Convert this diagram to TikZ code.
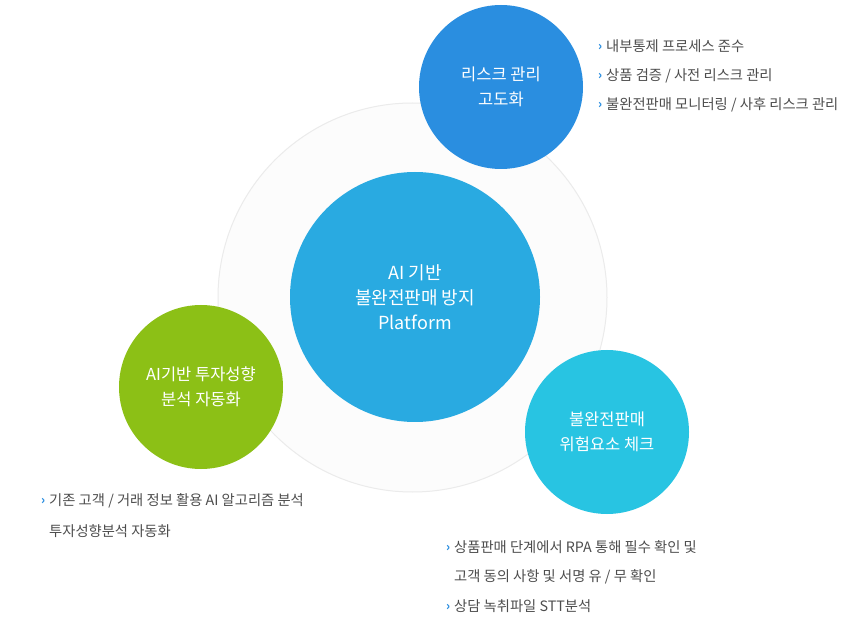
\documentclass[tikz,border=0pt]{standalone}
\usepackage{fontspec}
\usepackage{xcolor}
\setmainfont{Noto Sans CJK KR}

\definecolor{ringgray}{HTML}{EBEBEB}
\definecolor{ringfill}{HTML}{FCFCFC}
\definecolor{riskblue}{HTML}{2A8EE0}
\definecolor{mainblue}{HTML}{29AAE1}
\definecolor{aigreen}{HTML}{8CC016}
\definecolor{checkcyan}{HTML}{28C4E2}
\definecolor{listgray}{HTML}{4D4D4D}
\definecolor{bulletblue}{HTML}{2A8EE0}

\newcommand{\itembullet}{\raisebox{1pt}{\color{bulletblue}\fontsize{12}{12}\bfseries\selectfont ›}\hspace{4pt}}

\begin{document}
\begin{tikzpicture}[x=1pt,y=-1pt,
	bubble/.style={circle, inner sep=0pt, minimum size=164pt, text=white, align=center,
		font=\fontsize{16.5}{25.5}\selectfont},
	listline/.style={anchor=west, inner sep=0pt, text=listgray, font=\fontsize{14.3}{14}\selectfont}]
		\useasboundingbox[fill=white] (0,0) rectangle (860,628);
		\draw[color=ringgray, fill=ringfill, line width=1pt] (412.5,297.5) circle [radius=194.5];
		
		\node[circle, inner sep=0pt, minimum size=250pt, fill=mainblue, text=white, align=center,
			font=\fontsize{18}{25}\selectfont] (platform) at (415,297) {AI 기반\\불완전판매 방지\\Platform};
		\node[bubble, fill=riskblue] (risk) at (501,87) {리스크 관리\\고도화};
		\node[bubble, fill=aigreen] (invest) at (201,387) {AI기반 투자성향\\분석 자동화};
		\node[bubble, fill=checkcyan] (check) at (607,432) {불완전판매\\위험요소 체크};
		
		\node[listline] (risk1) at (598,46) {\itembullet 내부통제 프로세스 준수};
		\node[listline] (risk2) at (598,76) {\itembullet 상품 검증 / 사전 리스크 관리};
		\node[listline] (risk3) at (598,105) {\itembullet 불완전판매 모니터링 / 사후 리스크 관리};
		
		\node[listline] (invest1) at (41,501) {\itembullet 기존 고객 / 거래 정보 활용 AI 알고리즘 분석};
		\node[listline] (invest2) at (49,531) {투자성향분석 자동화};
		
		\node[listline] (check1) at (446,547) {\itembullet 상품판매 단계에서 RPA 통해 필수 확인 및};
		\node[listline] (check2) at (454,577) {고객 동의 사항 및 서명 유 / 무 확인};
		\node[listline] (check3) at (446,606) {\itembullet 상담 녹취파일 STT분석};
		
	\end{tikzpicture}
\end{document}
